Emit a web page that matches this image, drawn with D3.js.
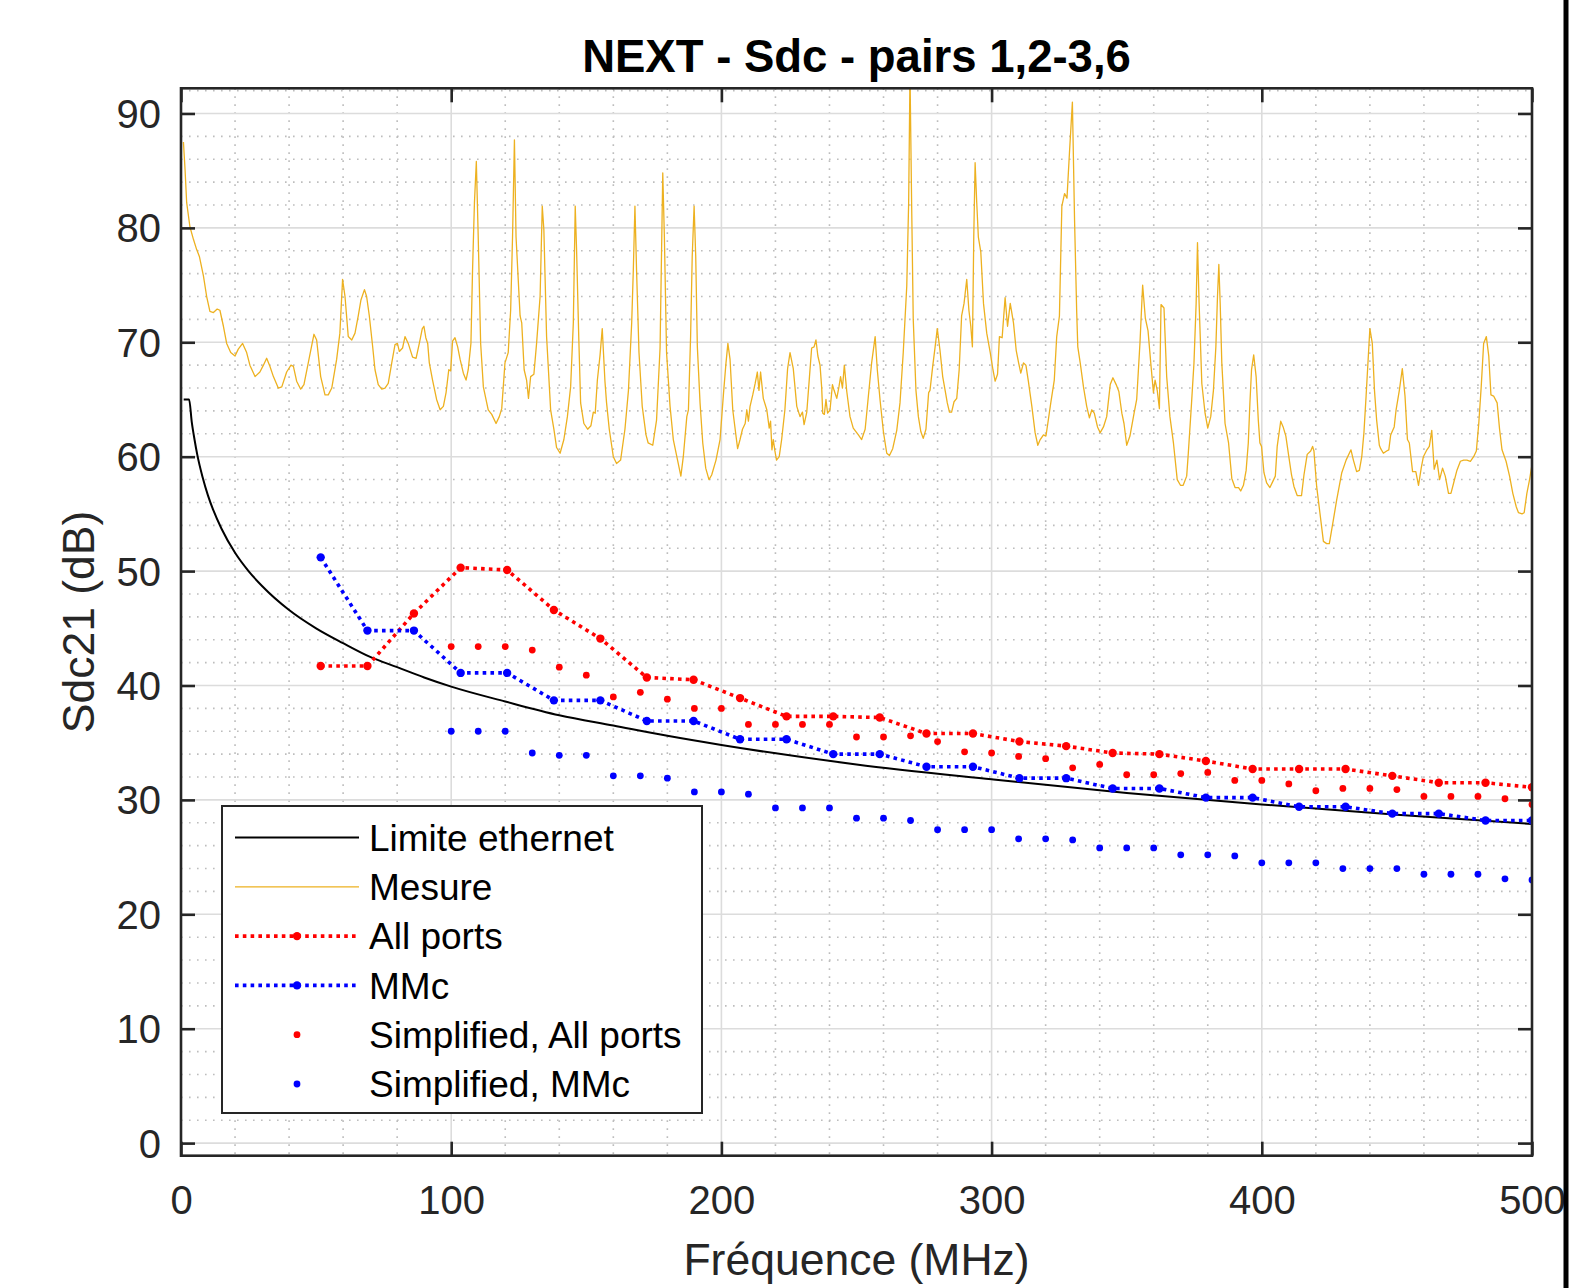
<!DOCTYPE html>
<meta charset="utf-8">
<script src="https://d3js.org/d3.v7.min.js"></script>
<style>
    body { margin: 0; background: #fff; }
    text { font-family: "Liberation Sans", Arial, sans-serif; fill: #262626; }
</style>
<div id="vis"></div>
<script>
    // limite ethernet
    var limitFreq = [1, 2, 3, 4, 5, 6, 8, 10, 12, 15, 20, 25, 30, 40, 50, 60, 70, 80, 90, 100,
        120, 140, 160, 180, 200, 250, 300, 350, 400, 450, 500];
    var limitDb = [65, 65, 65, 63.0, 61.5, 60.2, 58.2, 56.6, 55.3, 53.7, 51.6, 50.0, 48.7, 46.6, 45.0, 43.7, 42.5, 41.6, 40.7, 39.9,
        38.6, 37.4, 36.5, 35.6, 34.8, 33.1, 31.8, 30.6, 29.6, 28.7, 27.9];

    // mesure
    var mesFreq = [0.9, 1.5, 2.1, 3.3, 4.6, 5.8, 6.8, 8.3, 9.5, 10.7, 12.0, 13.4, 14.4, 15.7, 16.9, 18.4, 20.0, 21.2, 22.8, 24.3,
        25.5, 27.4, 29.2, 30.5, 31.7, 32.9, 34.2, 36.0, 37.3, 39.1, 40.7, 41.6, 42.8, 44.3, 45.5, 47.1, 49.2, 50.2, 51.7, 53.3,
        54.5, 55.8, 57.6, 58.8, 59.8, 60.7, 61.9, 63.2, 64.4, 65.6, 66.6, 67.9, 68.7, 69.7, 70.9, 71.8, 73.0, 74.3, 75.5, 76.7,
        78.0, 79.2, 80.1, 80.8, 82.0, 82.9, 84.1, 85.7, 87.0, 88.2, 89.3, 89.9, 90.6, 91.3, 91.9, 93.1, 94.6, 95.9, 97.1, 98.1,
        99.1, 99.8, 100.5, 101.4, 102.4, 103.3, 104.5, 105.5, 106.3, 107.3, 107.9, 108.6, 109.3, 110.0, 110.9, 111.9, 113.7, 115.0, 116.6, 117.8,
        118.7, 119.9, 121.1, 122.0, 122.7, 123.4, 124.0, 125.5, 126.1, 127.0, 127.9, 128.6, 129.4, 130.6, 131.6, 132.9, 133.7, 134.3, 135.3, 136.8,
        138.0, 139.0, 140.3, 141.7, 143.0, 144.2, 145.2, 145.9, 146.4, 147.2, 147.9, 149.1, 150.5, 151.7, 152.6, 153.3, 154.1, 155.1, 155.9, 156.9,
        157.5, 158.5, 160.0, 161.2, 162.7, 164.3, 165.6, 166.8, 167.4, 168.0, 168.6, 169.5, 170.7, 172.1, 172.9, 174.6, 176.0, 177.3, 178.3, 178.9,
        179.7, 181.0, 182.2, 185.0, 185.9, 187.2, 187.8, 188.6, 189.2, 189.9, 190.5, 191.1, 192.1, 193.1, 194.2, 195.4, 196.4, 198.0, 199.5, 200.8,
        201.7, 202.4, 203.2, 204.2, 205.2, 206.0, 206.9, 207.8, 208.8, 209.4, 210.0, 210.6, 211.6, 212.5, 213.3, 213.9, 214.5, 215.5, 216.8, 217.7,
        218.2, 218.7, 219.2, 219.8, 220.4, 221.4, 222.3, 223.5, 224.5, 225.4, 226.6, 227.9, 229.1, 230.0, 230.6, 231.6, 232.6, 233.4, 234.3, 235.0,
        235.7, 236.5, 237.1, 237.5, 238.1, 238.7, 239.3, 240.2, 241.1, 241.7, 242.7, 243.5, 244.1, 244.8, 245.5, 246.4, 247.6, 248.8, 250.7, 251.9,
        253.2, 254.4, 255.6, 256.9, 257.7, 258.7, 260.0, 261.2, 262.2, 263.4, 264.9, 266.1, 267.3, 268.6, 269.3, 269.8, 270.4, 271.0, 272.0, 272.9,
        273.8, 274.7, 275.7, 276.7, 277.2, 278.2, 279.1, 279.9, 280.9, 281.9, 282.8, 283.6, 284.4, 285.2, 286.1, 287.1, 288.0, 288.9, 289.8, 290.8,
        291.6, 292.3, 292.9, 293.4, 293.9, 294.5, 295.1, 296.0, 297.0, 298.2, 299.5, 300.5, 301.3, 302.2, 302.9, 303.9, 305.0, 305.9, 306.9, 308.1,
        309.1, 310.0, 310.8, 311.8, 312.7, 313.6, 314.9, 316.1, 317.1, 318.0, 319.2, 320.1, 320.8, 321.9, 323.2, 324.1, 325.1, 326.0, 327.0, 327.9,
        328.8, 329.9, 330.7, 331.5, 331.9, 332.8, 334.0, 335.2, 336.2, 337.1, 338.0, 339.2, 340.2, 341.4, 342.6, 343.9, 344.9, 346.1, 347.1, 348.2,
        349.0, 350.0, 351.2, 352.5, 353.7, 354.9, 355.9, 356.9, 357.9, 358.9, 359.9, 360.5, 361.3, 362.1, 362.7, 363.8, 364.8, 366.0, 367.3, 368.7,
        369.9, 370.9, 372.2, 372.8, 374.0, 374.9, 375.7, 376.2, 376.8, 377.8, 379.0, 380.0, 381.1, 382.1, 383.0, 383.6, 384.1, 384.6, 385.2, 386.4,
        387.7, 388.9, 390.1, 391.4, 392.2, 393.2, 394.2, 395.0, 395.6, 396.2, 397.0, 397.9, 398.7, 399.3, 399.9, 400.8, 401.8, 403.0, 404.0, 405.0,
        405.7, 407.0, 407.9, 408.9, 410.0, 411.0, 411.9, 413.1, 414.7, 415.6, 416.8, 418.1, 418.8, 419.3, 420.3, 421.5, 422.8, 424.0, 425.0, 426.5,
        427.7, 429.6, 431.2, 433.0, 433.9, 435.1, 436.1, 437.0, 437.8, 438.6, 440.0, 440.9, 441.7, 442.5, 443.5, 444.0, 445.0, 446.2, 447.0, 447.7,
        449.0, 449.7, 450.9, 452.0, 453.0, 453.9, 454.6, 455.8, 457.0, 458.0, 459.0, 459.8, 461.1, 462.0, 462.9, 463.8, 464.8, 465.8, 466.9, 467.9,
        469.1, 470.0, 471.0, 472.2, 473.5, 474.7, 475.9, 477.2, 478.4, 479.4, 480.3, 481.2, 482.1, 483.1, 484.0, 484.8, 485.8, 487.1, 488.0, 488.9,
        490.4, 491.7, 492.9, 494.2, 495.0, 496.3, 497.1, 498.1, 499.1, 500.0];
    var mesDb = [87.5, 85.1, 82.2, 80.1, 79.0, 78.1, 77.5, 75.8, 74.0, 72.7, 72.6, 72.9, 72.8, 71.4, 69.9, 69.1, 68.8, 69.4, 69.9, 69.1,
        68.0, 67.0, 67.4, 68.0, 68.6, 67.9, 67.0, 66.0, 66.1, 67.4, 68.0, 67.9, 66.6, 65.9, 66.3, 68.2, 70.7, 70.2, 67.0, 65.4,
        65.4, 66.0, 68.5, 70.8, 75.5, 74.0, 70.5, 70.2, 70.8, 72.3, 73.7, 74.6, 74.0, 72.3, 69.7, 67.6, 66.3, 65.9, 66.0, 66.4,
        68.2, 69.8, 69.9, 69.2, 69.5, 70.5, 69.9, 68.7, 68.6, 69.9, 71.2, 71.4, 70.4, 69.9, 68.2, 66.7, 65.0, 64.1, 64.4, 65.6,
        67.6, 67.5, 70.1, 70.4, 69.6, 68.5, 67.3, 66.7, 67.6, 69.9, 76.3, 82.2, 85.8, 79.2, 69.9, 66.1, 64.1, 63.7, 62.9, 63.5,
        64.2, 68.2, 69.1, 72.8, 79.2, 87.7, 79.2, 72.3, 71.7, 67.6, 66.7, 65.1, 67.0, 67.2, 69.9, 74.0, 81.9, 79.8, 70.5, 64.1,
        62.4, 60.8, 60.3, 61.5, 63.5, 66.1, 71.7, 81.9, 78.1, 70.5, 64.7, 62.9, 62.4, 62.7, 63.9, 63.8, 66.7, 68.9, 71.2, 66.6,
        64.7, 62.4, 60.0, 59.4, 59.7, 62.4, 65.8, 71.7, 76.3, 81.9, 76.3, 69.1, 64.4, 61.9, 61.2, 61.0, 63.2, 69.5, 84.8, 79.2,
        69.1, 64.4, 61.5, 58.3, 60.0, 63.5, 64.1, 70.5, 77.5, 81.9, 77.5, 69.6, 64.7, 61.2, 59.0, 58.0, 58.4, 59.7, 61.5, 65.6,
        68.2, 69.9, 68.5, 64.1, 62.2, 60.7, 61.5, 62.4, 62.9, 64.1, 63.1, 64.4, 65.4, 66.4, 67.4, 65.8, 67.4, 65.1, 64.1, 62.5,
        63.1, 60.6, 61.5, 60.5, 59.7, 60.0, 61.5, 64.1, 67.7, 69.1, 67.7, 64.4, 63.5, 63.9, 62.8, 63.9, 67.0, 69.5, 69.6, 70.2,
        68.8, 68.0, 66.1, 63.8, 63.7, 65.0, 63.8, 64.1, 66.3, 65.8, 65.1, 66.1, 67.0, 66.0, 68.0, 65.7, 63.5, 62.5, 61.9, 61.5,
        62.4, 65.3, 68.2, 70.5, 67.6, 65.0, 62.1, 60.3, 60.1, 60.7, 62.3, 64.7, 69.1, 74.9, 82.2, 93.5, 82.2, 72.0, 65.8, 63.5,
        62.2, 61.6, 62.4, 65.6, 65.8, 67.9, 69.6, 71.2, 69.3, 67.0, 65.8, 64.7, 63.9, 63.9, 64.8, 65.1, 67.6, 72.3, 73.4, 75.5,
        72.8, 71.4, 69.6, 79.2, 85.7, 82.2, 79.2, 77.9, 73.4, 70.8, 69.1, 67.6, 66.6, 67.2, 70.5, 70.4, 73.9, 71.4, 73.4, 71.7,
        69.3, 68.2, 67.3, 68.2, 68.0, 66.6, 64.4, 62.1, 61.0, 61.5, 61.9, 61.8, 62.9, 64.7, 66.7, 70.5, 72.3, 81.9, 83.0, 82.6,
        86.5, 91.0, 80.7, 72.6, 69.6, 68.2, 66.1, 64.4, 63.4, 64.1, 63.8, 62.6, 62.1, 62.6, 63.5, 66.3, 66.9, 66.3, 65.7, 63.8,
        62.9, 61.0, 61.8, 63.5, 65.0, 69.9, 75.0, 72.1, 71.0, 68.2, 65.6, 66.7, 65.8, 64.2, 73.3, 73.0, 67.0, 63.5, 61.2, 58.0,
        57.5, 57.5, 58.3, 60.3, 64.7, 68.2, 73.4, 78.7, 73.4, 66.4, 63.8, 62.5, 63.5, 65.8, 69.6, 74.0, 76.8, 73.4, 68.2, 62.9,
        61.2, 58.1, 57.3, 57.3, 57.0, 57.5, 58.8, 61.2, 64.7, 67.6, 68.9, 67.0, 63.2, 61.2, 60.9, 58.6, 57.7, 57.3, 57.8, 58.3,
        60.9, 63.1, 62.6, 61.8, 60.0, 58.4, 57.4, 56.6, 56.6, 58.4, 60.2, 60.5, 60.9, 60.5, 57.4, 55.1, 52.6, 52.4, 52.4, 54.5,
        56.2, 58.6, 59.7, 60.6, 59.7, 58.7, 58.8, 60.0, 62.1, 65.3, 71.2, 69.9, 65.8, 63.2, 61.0, 60.7, 60.3, 60.5, 60.6, 61.9,
        62.6, 64.1, 65.8, 67.7, 65.3, 61.5, 61.2, 58.7, 58.7, 57.5, 59.0, 60.0, 60.6, 60.9, 62.3, 58.9, 59.7, 58.0, 59.0, 58.3,
        56.8, 56.8, 57.7, 58.8, 59.6, 59.7, 59.7, 59.6, 60.0, 60.5, 62.9, 66.1, 69.9, 70.5, 68.8, 65.4, 65.3, 64.7, 62.4, 60.6,
        59.6, 58.3, 56.8, 55.6, 55.1, 55.0, 55.1, 56.8, 58.0, 59.3];

    // all ports / MMc
    var portFreq = [51.7, 69.0, 86.2, 103.5, 120.7, 138.0, 155.2, 172.4, 189.7, 206.9, 224.1, 241.4, 258.6, 275.9,
        293.1, 310.3, 327.6, 344.8, 362.1, 379.3, 396.6, 413.8, 431.0, 448.3, 465.5, 482.8, 500.0];
    var allPortsDb = [41.7, 41.7, 46.3, 50.3, 50.1, 46.6, 44.1, 40.7, 40.5, 38.9, 37.3, 37.3, 37.2, 35.8,
        35.8, 35.1, 34.7, 34.1, 34.0, 33.4, 32.7, 32.7, 32.7, 32.1, 31.5, 31.5, 31.1];
    var mmcDb = [51.2, 44.8, 44.8, 41.1, 41.1, 38.7, 38.7, 36.9, 36.9, 35.3, 35.3, 34.0, 34.0, 32.9,
        32.9, 31.9, 31.9, 31.0, 31.0, 30.2, 30.2, 29.4, 29.4, 28.8, 28.8, 28.2, 28.2];

    // simplified
    var simpFreq = [100, 110, 120, 130, 140, 150, 160, 170, 180, 190, 200, 210, 220, 230, 240, 250, 260, 270, 280, 290,
        300, 310, 320, 330, 340, 350, 360, 370, 380, 390, 400, 410, 420, 430, 440, 450, 460, 470, 480, 490, 500];
    var simpAllDb = [43.4, 43.4, 43.4, 43.1, 41.6, 40.9, 39.0, 39.4, 38.8, 38.0, 38.0, 36.6, 36.6, 36.6, 36.6, 35.5, 35.5, 35.6, 35.1, 34.2,
        34.1, 33.8, 33.6, 32.8, 33.1, 32.2, 32.2, 32.3, 32.4, 31.7, 31.7, 31.4, 30.8, 31.0, 31.0, 30.9, 30.3, 30.3, 30.3, 30.1, 29.6];
    var simpMmcDb = [36.0, 36.0, 36.0, 34.1, 33.9, 33.9, 32.1, 32.1, 31.9, 30.7, 30.7, 30.5, 29.3, 29.3, 29.3, 28.4, 28.4, 28.2, 27.4, 27.4,
        27.4, 26.6, 26.6, 26.5, 25.8, 25.8, 25.8, 25.2, 25.2, 25.1, 24.5, 24.5, 24.5, 24.0, 24.0, 24.0, 23.5, 23.5, 23.5, 23.1, 23.0];

    var xTicks = [0, 100, 200, 300, 400, 500];
    var yTicks = [0, 10, 20, 30, 40, 50, 60, 70, 80, 90];
    var legendLabels = ["Limite ethernet", "Mesure", "All ports", "MMc", "Simplified, All ports", "Simplified, MMc"];

    var W = 1596, H = 1288;
    var box = { lft: 181, rgt: 1532, top: 88.3, btm: 1155.7 };
    var axCol = "#262626";

    var svg = d3.select("#vis").append("svg")
        .attr("width", W).attr("height", H);

    var x = d3.scaleLinear().domain([0, 500]).range([box.lft, box.rgt]);
    var y = d3.scaleLinear().domain([-1.1, 92.2]).range([box.btm, box.top]);

    svg.append("defs").append("clipPath").attr("id", "plotclip")
        .append("rect")
        .attr("x", box.lft).attr("y", box.top)
        .attr("width", box.rgt - box.lft).attr("height", box.btm - box.top);

    // grid
    var minorX = d3.range(20, 500, 20).filter(function (v) { return v % 100 !== 0; });
    var minorY = d3.range(2, 93, 2).filter(function (v) { return v % 10 !== 0; });
    var grid = svg.append("g");
    grid.selectAll(".mnx").data(minorX).enter().append("line")
        .attr("x1", d => x(d)).attr("x2", d => x(d))
        .attr("y1", box.top).attr("y2", box.btm)
        .attr("stroke", "#bdbdbd").attr("stroke-width", 1.6).attr("stroke-dasharray", "1.6 6.4");
    grid.selectAll(".mny").data(minorY).enter().append("line")
        .attr("x1", box.lft).attr("x2", box.rgt)
        .attr("y1", d => y(d)).attr("y2", d => y(d))
        .attr("stroke", "#bdbdbd").attr("stroke-width", 1.6).attr("stroke-dasharray", "1.6 6.4");
    grid.selectAll(".mjx").data(xTicks.slice(1, -1)).enter().append("line")
        .attr("x1", d => x(d)).attr("x2", d => x(d))
        .attr("y1", box.top).attr("y2", box.btm)
        .attr("stroke", "#dcdcdc").attr("stroke-width", 1.6);
    grid.selectAll(".mjy").data(yTicks).enter().append("line")
        .attr("x1", box.lft).attr("x2", box.rgt)
        .attr("y1", d => y(d)).attr("y2", d => y(d))
        .attr("stroke", "#dcdcdc").attr("stroke-width", 1.6);

    // data
    var plot = svg.append("g").attr("clip-path", "url(#plotclip)");
    var line = d3.line().x(d => x(d[0])).y(d => y(d[1]));

    plot.append("path")
        .datum(d3.zip(limitFreq, limitDb))
        .attr("d", line.curve(d3.curveMonotoneX))
        .attr("fill", "none").attr("stroke", "#000").attr("stroke-width", 2);

    line.curve(d3.curveLinear);
    plot.append("path")
        .datum(d3.zip(mesFreq, mesDb))
        .attr("d", line)
        .attr("fill", "none").attr("stroke", "#EDB120").attr("stroke-width", 1.3)
        .attr("stroke-linejoin", "round");

    function dotted(fr, vals, col) {
        plot.append("path")
            .datum(d3.zip(fr, vals))
            .attr("d", line)
            .attr("fill", "none").attr("stroke", col).attr("stroke-width", 3.6)
            .attr("stroke-dasharray", "3.6 4.2");
        plot.selectAll(null).data(d3.zip(fr, vals)).enter().append("circle")
            .attr("cx", d => x(d[0])).attr("cy", d => y(d[1]))
            .attr("r", 4.2).attr("fill", col);
    }
    dotted(portFreq, allPortsDb, "#FF0000");
    dotted(portFreq, mmcDb, "#0000FF");

    function dots(fr, vals, col) {
        plot.selectAll(null).data(d3.zip(fr, vals)).enter().append("circle")
            .attr("cx", d => x(d[0])).attr("cy", d => y(d[1]))
            .attr("r", 3.4).attr("fill", col);
    }
    dots(simpFreq, simpAllDb, "#FF0000");
    dots(simpFreq, simpMmcDb, "#0000FF");

    // axes
    var tickLen = 14;
    var fmt = d3.format("d");
    var gx = svg.append("g").attr("transform", "translate(0," + box.btm + ")")
        .call(d3.axisBottom(x).tickValues(xTicks).tickFormat(fmt).tickSizeInner(-tickLen).tickSizeOuter(0).tickPadding(30));
    var gy = svg.append("g").attr("transform", "translate(" + box.lft + ",0)")
        .call(d3.axisLeft(y).tickValues(yTicks).tickFormat(fmt).tickSizeInner(-tickLen).tickSizeOuter(0).tickPadding(20));
    var gt = svg.append("g").attr("transform", "translate(0," + box.top + ")")
        .call(d3.axisTop(x).tickValues(xTicks).tickFormat("").tickSizeInner(-tickLen).tickSizeOuter(0));
    var gr = svg.append("g").attr("transform", "translate(" + box.rgt + ",0)")
        .call(d3.axisRight(y).tickValues(yTicks).tickFormat("").tickSizeInner(-tickLen).tickSizeOuter(0));
    [gx, gy, gt, gr].forEach(function (g) {
        g.select(".domain").remove();
        g.selectAll(".tick line").attr("stroke", axCol).attr("stroke-width", 2.6);
        g.selectAll(".tick text").attr("fill", axCol)
            .style("font-family", "'Liberation Sans', Arial, sans-serif").style("font-size", "40px");
    });
    gy.selectAll(".tick text").attr("dy", "0.35em");

    svg.append("rect")
        .attr("x", box.lft).attr("y", box.top)
        .attr("width", box.rgt - box.lft).attr("height", box.btm - box.top)
        .attr("fill", "none").attr("stroke", axCol).attr("stroke-width", 2.6);

    // legend
    var lg = svg.append("g");
    var lgBox = { x: 222, y: 806, w: 480, h: 307 };
    lg.append("rect")
        .attr("x", lgBox.x).attr("y", lgBox.y).attr("width", lgBox.w).attr("height", lgBox.h)
        .attr("fill", "#fff").attr("stroke", axCol).attr("stroke-width", 2);
    var rowY = function (i) { return 837.5 + i * 49.3; };
    var sampleX1 = 235, sampleX2 = 359, markX = 297;
    lg.append("line").attr("x1", sampleX1).attr("x2", sampleX2).attr("y1", rowY(0)).attr("y2", rowY(0))
        .attr("stroke", "#000").attr("stroke-width", 2);
    lg.append("line").attr("x1", sampleX1).attr("x2", sampleX2).attr("y1", rowY(1)).attr("y2", rowY(1))
        .attr("stroke", "#EDB120").attr("stroke-width", 1.3);
    [["#FF0000", 2], ["#0000FF", 3]].forEach(function (c) {
        lg.append("line").attr("x1", sampleX1).attr("x2", sampleX2).attr("y1", rowY(c[1])).attr("y2", rowY(c[1]))
            .attr("stroke", c[0]).attr("stroke-width", 3.6).attr("stroke-dasharray", "3.6 4.2");
        lg.append("circle").attr("cx", markX).attr("cy", rowY(c[1])).attr("r", 4.2).attr("fill", c[0]);
    });
    lg.append("circle").attr("cx", markX).attr("cy", rowY(4)).attr("r", 3.4).attr("fill", "#FF0000");
    lg.append("circle").attr("cx", markX).attr("cy", rowY(5)).attr("r", 3.4).attr("fill", "#0000FF");
    lg.selectAll(".lt").data(legendLabels).enter().append("text")
        .attr("x", 369).attr("y", (d, i) => rowY(i)).attr("dy", "0.36em")
        .style("font-size", "37px").style("fill", "#000")
        .text(d => d);

    // titles
    svg.append("text")
        .attr("x", (box.lft + box.rgt) / 2).attr("y", 71.5)
        .attr("text-anchor", "middle")
        .style("font-size", "45.5px").style("font-weight", "bold").style("fill", "#000")
        .text("NEXT - Sdc - pairs 1,2-3,6");
    svg.append("text")
        .attr("x", (box.lft + box.rgt) / 2).attr("y", 1275)
        .attr("text-anchor", "middle")
        .style("font-size", "44.5px")
        .text("Fréquence (MHz)");
    svg.append("text")
        .attr("transform", "translate(94," + (box.top + box.btm) / 2 + ") rotate(-90)")
        .attr("text-anchor", "middle")
        .style("font-size", "44.5px")
        .text("Sdc21 (dB)");

    // black bar at the right edge
    svg.append("rect").attr("x", 1563.5).attr("y", 0).attr("width", 5).attr("height", H).attr("fill", "#000");
</script>
